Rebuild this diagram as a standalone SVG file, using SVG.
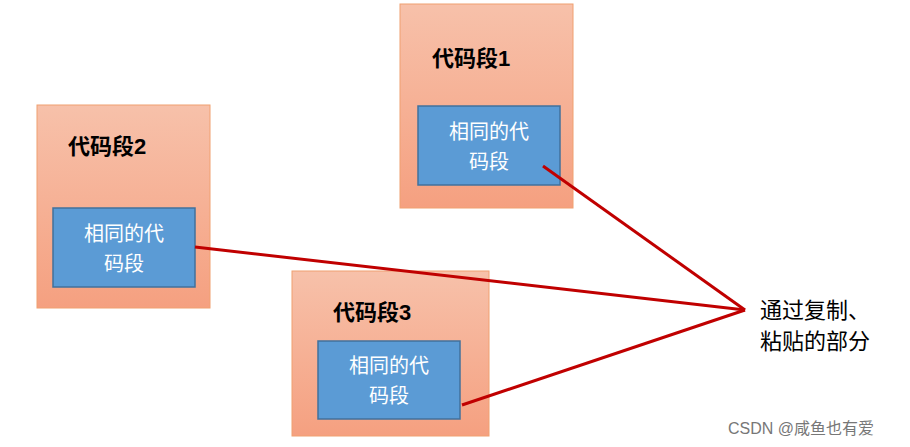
<svg xmlns="http://www.w3.org/2000/svg" width="910" height="447" viewBox="0 0 910 447">
<defs>
<linearGradient id="og" x1="0" y1="0" x2="0" y2="1"><stop offset="0" stop-color="#f7c1aa"/><stop offset="1" stop-color="#f5a080"/></linearGradient>
</defs>
<style>
.outer{fill:url(#og);stroke:#f0a070;stroke-width:1}
.inner{fill:#5b9bd5;stroke:#41719c;stroke-width:1.5}
.t{font-family:"Liberation Sans","Noto Sans CJK SC",sans-serif;font-weight:bold;font-size:22px;fill:#000}
.w{font-family:"Liberation Sans","Noto Sans CJK SC",sans-serif;font-size:20px;fill:#fff;text-anchor:middle}
.c{stroke:#c00000;stroke-width:3;fill:none}
</style>
<rect width="910" height="447" fill="#fff"/>
<g id="node1"><rect class="outer" x="400" y="4" width="173" height="204"/><text class="t" x="432" y="66">代码段1</text>
<rect class="inner" x="418" y="106" width="142" height="79"/><text class="w" x="489" y="139">相同的代</text><text class="w" x="489" y="169">码段</text></g>
<g id="node2"><rect class="outer" x="37" y="105" width="173" height="203"/><text class="t" x="68" y="154">代码段2</text>
<rect class="inner" x="53" y="208" width="142" height="79"/><text class="w" x="124" y="241">相同的代</text><text class="w" x="124" y="271">码段</text></g>
<g id="node3"><rect class="outer" x="292" y="271" width="197" height="165"/><text class="t" x="333" y="320">代码段3</text>
<rect class="inner" x="318" y="341" width="142" height="78"/><text class="w" x="389" y="373">相同的代</text><text class="w" x="389" y="403">码段</text></g>
<g id="connectors">
<line class="c" x1="543" y1="166" x2="745" y2="310"/>
<line class="c" x1="195" y1="247" x2="745" y2="310"/>
<line class="c" x1="462" y1="405" x2="745" y2="310"/>
</g>
<g id="label"><text class="t" style="font-weight:normal" x="760" y="318">通过复制、</text><text class="t" style="font-weight:normal" x="760" y="349">粘贴的部分</text></g>
<text x="728" y="434" font-family="Liberation Sans,Noto Sans CJK SC,sans-serif" font-size="16" fill="#777">CSDN @咸鱼也有爱</text>
</svg>
